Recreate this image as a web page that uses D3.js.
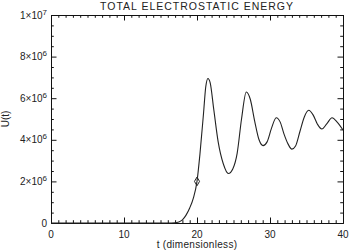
<!DOCTYPE html>
<html>
<head>
<meta charset="utf-8">
<script src="https://cdn.jsdelivr.net/npm/d3@7"></script>
<style>
  body { margin: 0; background: #fff; }
  text { font-family: "Liberation Sans", "DejaVu Sans", sans-serif; fill: #222; }
</style>
</head>
<body>
<div id="chart"></div>
<script>
// data (t in dimensionless units, U in absolute units)
const tValues = [0, 5, 10, 15, 16, 17, 17.5, 18, 18.5, 19, 19.5, 20, 20.4, 20.9, 21.2, 21.5, 21.8,
  22.3, 22.9, 23.6, 24.3, 24.9, 25.5, 26.1, 26.75, 27.3, 27.9, 28.5, 29.05, 29.6, 30.2, 30.85,
  31.4, 31.9, 32.5, 33.0, 33.5, 34.1, 34.7, 35.3, 35.9, 36.5, 37.1, 37.8, 38.5, 39.2, 40];
const uValues = [0, 0, 0, 0, 0, 0.01e6, 0.05e6, 0.15e6, 0.38e6, 0.72e6, 1.2e6, 2.0e6, 3.3e6, 5.3e6, 6.55e6, 6.95e6, 6.75e6,
  5.45e6, 3.9e6, 2.85e6, 2.38e6, 2.6e6, 3.35e6, 5.0e6, 6.3e6, 5.95e6, 4.9e6, 4.0e6, 3.72e6, 3.9e6, 4.55e6, 5.06e6,
  4.85e6, 4.3e6, 3.78e6, 3.55e6, 3.7e6, 4.4e6, 5.1e6, 5.42e6, 5.2e6, 4.75e6, 4.52e6, 4.78e6, 5.06e6, 4.85e6, 4.47e6];
const markerPoint = { t: 20, u: 2.0e6 };

const xTicks = [0, 10, 20, 30, 40];
const yTicks = [0, 2e6, 4e6, 6e6, 8e6, 1e7];
const yTickLabels = [["0", ""], ["2\u00d710", "6"], ["4\u00d710", "6"], ["6\u00d710", "6"], ["8\u00d710", "6"], ["1\u00d710", "7"]];

const titleText = "TOTAL ELECTROSTATIC ENERGY";
const xLabel = "t (dimensionless)";
const yLabel = "U(t)";

const W = 349, H = 252;
const margin = { top: 15, right: 6, bottom: 29, left: 51 };
const width = W - margin.left - margin.right,
  height = H - margin.top - margin.bottom;

const svg = d3.select("#chart").append("svg")
  .attr("width", W).attr("height", H);
const g = svg.append("g").attr("transform", `translate(${margin.left},${margin.top})`);

const x = d3.scaleLinear().domain([0, 40]).range([0, width]);
const y = d3.scaleLinear().domain([0, 1e7]).range([height, 0]);

const minorX = d3.range(0, 41, 1).filter(d => d % 10 !== 0);
const minorY = d3.range(0, 1e7 + 1, 0.5e6).filter(d => d % 2e6 !== 0);

// box with inward ticks on all four sides
function tickAxis(axisFn, scale, values, size) {
  return axisFn(scale).tickValues(values).tickSize(-size).tickFormat("").tickSizeOuter(0);
}
const axes = [
  [d3.axisBottom, x, `translate(0,${height})`],
  [d3.axisTop, x, "translate(0,0)"],
  [d3.axisLeft, y, "translate(0,0)"],
  [d3.axisRight, y, `translate(${width},0)`]
];
axes.forEach(([fn, sc, tr]) => {
  const isX = sc === x;
  g.append("g").attr("transform", tr).call(tickAxis(fn, sc, isX ? xTicks : yTicks, 5.5));
  g.append("g").attr("transform", tr).call(tickAxis(fn, sc, isX ? minorX : minorY, 2.8));
});
g.selectAll(".domain").attr("stroke", "#111").attr("stroke-width", 1);
g.selectAll(".tick line").attr("stroke", "#111").attr("stroke-width", 1);

// x tick labels
g.selectAll(".xlab").data(xTicks).join("text")
  .attr("x", d => x(d)).attr("y", height + 15)
  .attr("text-anchor", "middle").style("font-size", "10px")
  .text(d => d);

// y tick labels with exponent
const yl = g.selectAll(".ylab").data(yTicks).join("text")
  .attr("x", -4).attr("y", d => y(d) + 3.5)
  .attr("text-anchor", "end").style("font-size", "10px");
yl.each(function (d, i) {
  const t = d3.select(this);
  const [base, exp] = yTickLabels[i];
  t.append("tspan").text(base);
  if (exp) t.append("tspan").attr("dy", -4).style("font-size", "8px").text(exp);
});

// title and axis labels
svg.append("text").attr("x", margin.left + width / 2).attr("y", 10)
  .attr("text-anchor", "middle").style("font-size", "10.5px").style("letter-spacing", "1px")
  .text(titleText);
svg.append("text").attr("x", margin.left + width / 2).attr("y", H - 4)
  .attr("text-anchor", "middle").style("font-size", "10px").style("letter-spacing", "0.3px")
  .text(xLabel);
svg.append("text").attr("transform", `translate(9,${margin.top + height / 2}) rotate(-90)`)
  .attr("text-anchor", "middle").style("font-size", "10px")
  .text(yLabel);

// the curve
const data = tValues.map((t, i) => ({ t: t, u: uValues[i] }));
const line = d3.line().x(d => x(d.t)).y(d => y(d.u)).curve(d3.curveMonotoneX);
g.append("path").datum(data)
  .attr("fill", "none").attr("stroke", "#222").attr("stroke-width", 1.1)
  .attr("d", line);

// diamond marker
g.append("path")
  .attr("d", d3.symbol(d3.symbolDiamond, 22)())
  .attr("transform", `translate(${x(markerPoint.t)},${y(markerPoint.u)})`)
  .attr("fill", "none").attr("stroke", "#222").attr("stroke-width", 1);
</script>
</body>
</html>
